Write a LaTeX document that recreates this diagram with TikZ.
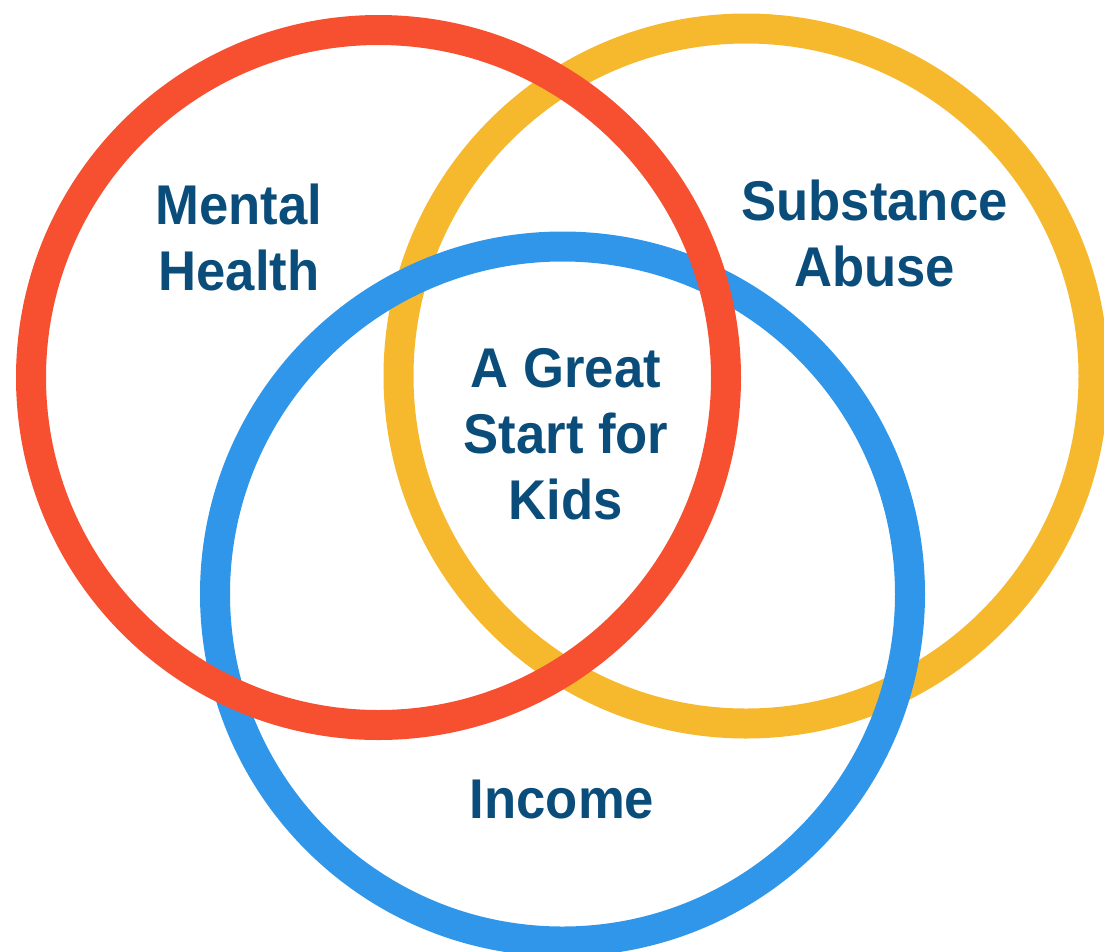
\documentclass[tikz,border=0pt]{standalone}
\usepackage{fontspec}
\setmainfont[FakeStretch=0.94]{Liberation Sans}
\definecolor{cred}{HTML}{F65030}
\definecolor{cyellow}{HTML}{F6B92D}
\definecolor{cblue}{HTML}{2F96EA}
\definecolor{ctext}{HTML}{0B4D7A}
\begin{document}
\begin{tikzpicture}[x=0.75pt,y=-0.75pt,
  ring/.style={circle, draw=#1, line width=22.5pt, minimum size=521.25pt, inner sep=0pt},
  lbl/.style={text=ctext, align=center, anchor=base, font=\fontsize{42}{49.5}\selectfont\bfseries, inner sep=0pt}]
\useasboundingbox (0,0) rectangle (1104,951);
\node[ring=cyellow] (yc) at (746,376) {};
\node[ring=cblue] (bc) at (562.5,594) {};
\node[ring=cred] (rc) at (378.5,377.5) {};
\node[lbl] (mh) at (239,290) {Mental\\Health};
\node[lbl] (sa) at (874.5,286) {Substance\\Abuse};
\node[lbl] (gs) at (566,519) {A Great\\Start for\\Kids};
\node[lbl] (inc) at (562,818) {Income};
\end{tikzpicture}
\end{document}
